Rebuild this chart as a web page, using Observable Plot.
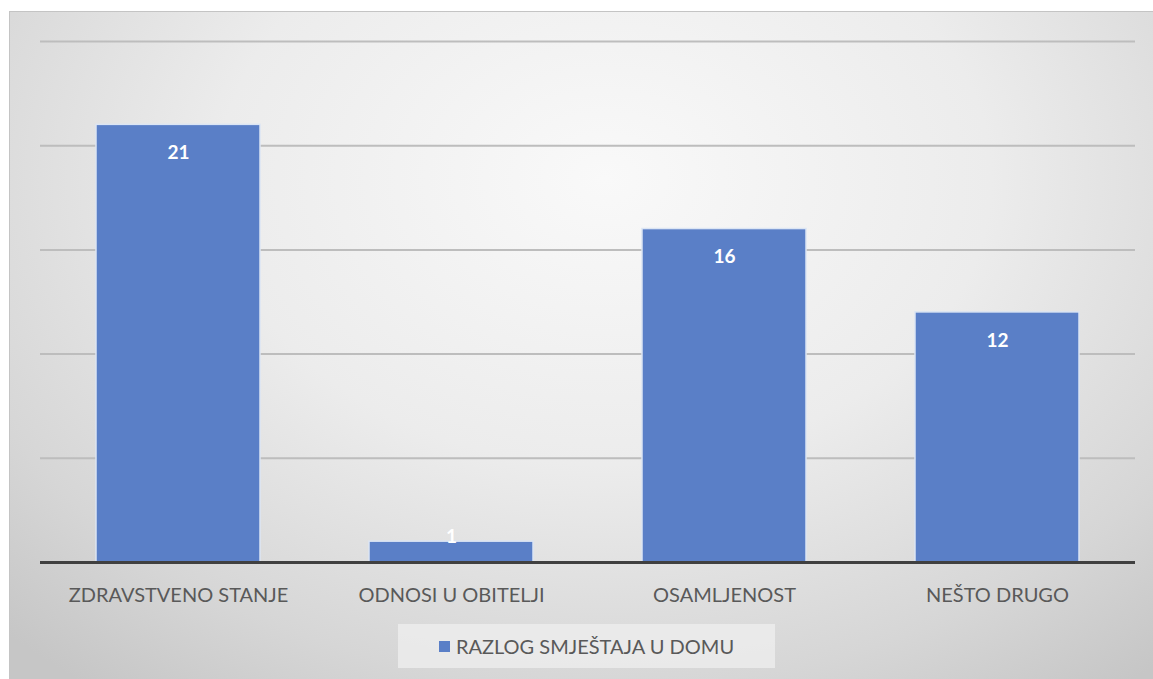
<!DOCTYPE html>
<html>
<head>
<meta charset="utf-8">
<script src="https://cdn.jsdelivr.net/npm/d3@7"></script>
<script src="https://cdn.jsdelivr.net/npm/@observablehq/plot@0.6"></script>
<style>
  html, body { margin: 0; padding: 0; background: #ffffff; }
  #wrap { position: relative; width: 1153px; height: 679px; overflow: hidden; background: #fff; }
  #frame {
    position: absolute; left: 9px; top: 11px; width: 1144px; height: 668px;
    background: radial-gradient(ellipse 75% 95% at 52% 25%, #f9f9f9 0%, #ececec 45%, #d6d6d6 80%, #c6c6c6 100%);
    border-top: 1px solid #c4c4c4; border-left: 1px solid #c4c4c4;
  }
  #chart { position: absolute; left: 0; top: 0; }
  #legend {
    position: absolute; left: 398px; top: 624px; width: 377px; height: 44px;
    background: rgba(236,236,236,0.85);
    display: flex; align-items: center; justify-content: center;
    font-family: Lato, "Open Sans", sans-serif; font-size: 20px; color: #595959;
  }
  #legend .sw { width: 11px; height: 11px; background: #5a7fc7; margin-right: 6px; margin-top: 1px; }
</style>
</head>
<body>
<div id="wrap">
  <div id="frame"></div>
  <div id="chart"></div>
  <div id="legend"><span class="sw"></span><span id="legtext"></span></div>
</div>
<script>
const categories = ["ZDRAVSTVENO STANJE", "ODNOSI U OBITELJI", "OSAMLJENOST", "NEŠTO DRUGO"];
const values = [21, 1, 16, 12];
const seriesName = "RAZLOG SMJEŠTAJA U DOMU";
const gridTicks = [5, 10, 15, 20, 25];

const data = categories.map((c, i) => ({category: c, value: values[i]}));
document.getElementById("legtext").textContent = seriesName;

const barColor = "#5a7fc7";

const chart = Plot.plot({
  width: 1153,
  height: 610,
  marginLeft: 40,
  marginRight: 18,
  marginTop: 41,
  marginBottom: 48,
  style: {background: "transparent", fontFamily: "Lato, 'Open Sans', sans-serif"},
  x: {domain: categories, paddingInner: 0.4, paddingOuter: 0.2, label: null},
  y: {domain: [0, 25], axis: null},
  marks: [
    Plot.ruleY(gridTicks, {stroke: "#bdbdbd", strokeWidth: 2}),
    Plot.barY(data, {x: "category", y: "value", fill: barColor, stroke: "#dbe5f4", strokeWidth: 1.5}),
    Plot.ruleY([0], {stroke: "#404040", strokeWidth: 3}),
    Plot.text(data.filter(d => d.value >= 3), {x: "category", y: "value", text: d => String(d.value), dy: 28, fill: "white", fontWeight: "bold", fontSize: 19}),
    Plot.text(data.filter(d => d.value < 3), {x: "category", y: "value", text: d => String(d.value), dy: -5, fill: "white", fontWeight: "bold", fontSize: 19}),
    Plot.axisX({tickSize: 0, tickPadding: 25, fontSize: 20, fill: "#595959", label: null})
  ]
});
document.getElementById("chart").appendChild(chart);
</script>
</body>
</html>
